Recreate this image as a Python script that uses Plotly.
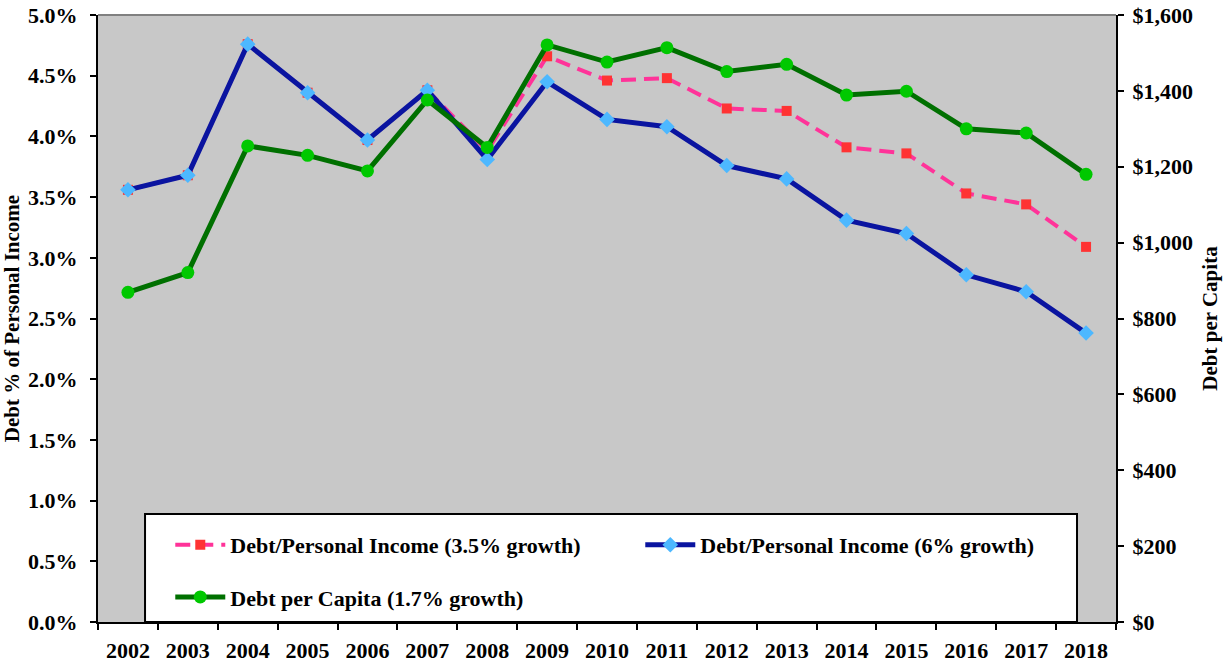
import plotly.graph_objects as go

FONT = "Liberation Serif, Times New Roman, serif"

years = [str(y) for y in range(2002, 2019)]

# Debt as share of personal income, 3.5% income growth
debt_pct_35 = [0.0356, 0.0368, 0.0476, 0.0436, 0.0397, 0.0438, 0.0388, 0.0466, 0.0446,
               0.0448, 0.0423, 0.0421, 0.0391, 0.0386, 0.0353, 0.0344, 0.0309]
# Debt as share of personal income, 6% income growth
debt_pct_6 = [0.0356, 0.0368, 0.0476, 0.0436, 0.0397, 0.0438, 0.0381, 0.0445, 0.0414,
              0.0408, 0.0376, 0.0365, 0.0331, 0.0320, 0.0286, 0.0272, 0.0238]
# Debt per capita, 1.7% population growth
debt_per_capita = [869, 921, 1255, 1230, 1189, 1376, 1251, 1521, 1476,
                   1514, 1451, 1470, 1389, 1399, 1300, 1289, 1180]

fig = go.Figure()

fig.add_trace(go.Scatter(
    x=years, y=debt_pct_35, name="Debt/Personal Income (3.5% growth)",
    mode="lines+markers",
    line=dict(color="#FF3399", width=4, dash="15px,8px"),
    marker=dict(symbol="square", size=10, color="#FF3333"),
    legend="legend",
))
fig.add_trace(go.Scatter(
    x=years, y=debt_pct_6, name="Debt/Personal Income (6% growth)",
    mode="lines+markers",
    line=dict(color="#0A14A0", width=5),
    marker=dict(symbol="diamond", size=12, color="#4DB8FF"),
    legend="legend",
))
fig.add_trace(go.Scatter(
    x=years, y=debt_per_capita, name="Debt per Capita (1.7% growth)",
    mode="lines+markers", yaxis="y2",
    line=dict(color="#007000", width=5),
    marker=dict(symbol="circle", size=13, color="#00C800"),
    legend="legend2",
))

legend_common = dict(
    orientation="h", xanchor="left", yanchor="middle",
    bgcolor="rgba(0,0,0,0)", borderwidth=0, itemwidth=50,
    entrywidth=405, entrywidthmode="pixels",
    font=dict(family=FONT, size=22, color="black", weight="bold"),
)

axis_common = dict(
    ticks="outside", ticklen=6, tickwidth=2, tickcolor="black",
    showline=True, linecolor="black", linewidth=2, showgrid=False,
    zeroline=False, automargin=False, tickfont=dict(size=22),
)

fig.update_layout(
    width=1231, height=663,
    margin=dict(l=98, r=115, t=15, b=41),
    paper_bgcolor="white", plot_bgcolor="#C8C8C8",
    font=dict(family=FONT, size=22, color="black", weight="bold"),
    showlegend=True,
    legend=dict(x=0.071, y=0.127, **legend_common),
    legend2=dict(x=0.071, y=0.041, **legend_common),
    xaxis=dict(type="category", range=[-0.5, 16.5], tickson="boundaries",
               ticklabelstandoff=8, **axis_common),
    yaxis=dict(
        range=[0, 0.05], dtick=0.005, tickformat=".1%", ticklabelstandoff=8,
        title=dict(text="Debt % of Personal Income", font=dict(size=21), standoff=8),
        **axis_common,
    ),
    yaxis2=dict(
        overlaying="y", side="right", range=[0, 1600], dtick=200,
        tickprefix="$", tickformat=",", ticklabelstandoff=4,
        title=dict(text="Debt per Capita", font=dict(size=21), standoff=10),
        **axis_common,
    ),
    shapes=[
        dict(type="rect", xref="paper", yref="paper", x0=0.0462, x1=0.9617,
             y0=0, y1=0.178, fillcolor="white", line=dict(color="black", width=2),
             layer="below"),
        dict(type="line", xref="paper", yref="paper", x0=0, x1=1, y0=1, y1=1,
             line=dict(color="#808080", width=2)),
    ],
)

# drop the default page margin so the figure fills the window exactly
fig.write_html(
    "out.html",
    config={"displayModeBar": False},
    post_script="document.body.style.margin = '0';",
)
